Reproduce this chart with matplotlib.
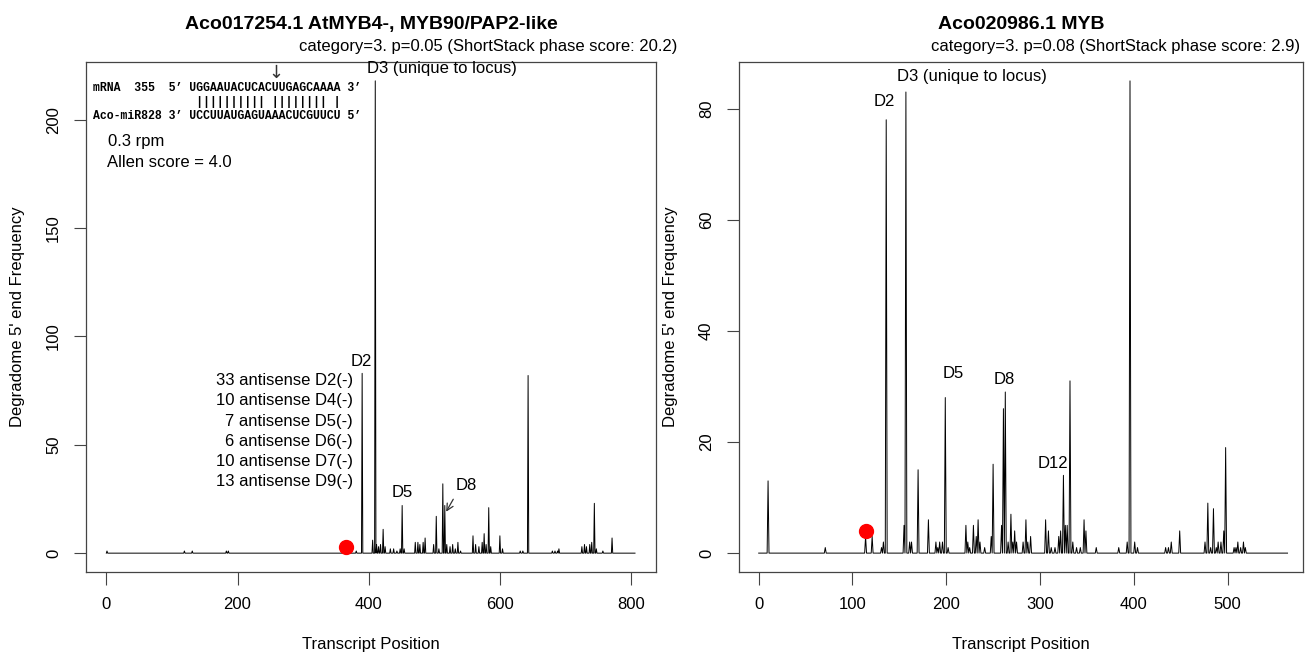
import numpy as np
import matplotlib
matplotlib.use("Agg")
import matplotlib.pyplot as plt

plt.rcParams['font.family'] = ['Liberation Sans', 'DejaVu Sans']
plt.rcParams['font.size'] = 12

# ---- data: left transcript (Aco017254.1) ----
left_len = 806
left_pos = [1, 119, 131, 183, 186, 381, 390, 406, 410, 412, 415, 418, 422, 425,
            433, 438, 443, 448, 451, 454, 471, 475, 478, 483, 486, 499, 503, 507,
            513, 516, 519, 524, 528, 532, 536, 540, 559, 563, 568, 573, 576, 579,
            583, 586, 600, 604, 631, 635, 643, 680, 684, 688, 690, 725, 729, 732,
            737, 740, 744, 747, 757, 771]
left_val = [1, 1, 1, 1, 1, 1, 83, 6, 218, 4, 3, 4, 11, 3,
            2, 2, 1, 2, 22, 2, 5, 5, 4, 5, 7, 4, 17, 2,
            32, 22, 4, 3, 4, 2, 5, 1, 8, 4, 3, 5, 9, 4,
            21, 3, 8, 2, 1, 1, 82, 1, 1, 1, 2, 3, 4, 3,
            4, 5, 23, 2, 1, 7]

# ---- data: right transcript (Aco020986.1) ----
right_len = 564
right_pos = [10, 71, 114, 121, 131, 133, 136, 155, 157, 161, 163, 170, 181, 189,
             191, 193, 196, 199, 202, 221, 223, 225, 229, 232, 234, 236, 241, 248,
             250, 259, 261, 263, 266, 269, 271, 273, 275, 282, 285, 287, 290, 306,
             309, 312, 316, 320, 322, 325, 327, 329, 332, 335, 339, 343, 347, 349,
             360, 384, 393, 396, 401, 404, 434, 437, 440, 449, 476, 479, 482, 485,
             488, 490, 493, 496, 498, 507, 509, 511, 514, 517, 519]
right_val = [13, 1, 3, 3, 1, 2, 78, 5, 83, 2, 2, 15, 6, 2,
             1, 2, 2, 28, 1, 5, 2, 1, 5, 3, 6, 2, 1, 3,
             16, 5, 26, 29, 2, 7, 2, 4, 2, 2, 6, 2, 3, 6,
             4, 1, 1, 3, 4, 14, 5, 5, 31, 2, 1, 1, 6, 4,
             1, 1, 2, 85, 2, 1, 1, 1, 2, 4, 2, 9, 1, 8,
             1, 2, 2, 4, 19, 1, 1, 2, 1, 2, 1]

# cleavage sites (red dots)
left_site = (365, 3)
right_site = (114, 4)

left_title = "Aco017254.1 AtMYB4-, MYB90/PAP2-like"
right_title = "Aco020986.1 MYB"
left_sub = "category=3. p=0.05 (ShortStack phase score: 20.2)"
right_sub = "category=3. p=0.08 (ShortStack phase score: 2.9)"

antisense = ["33 antisense D2(-)", "10 antisense D4(-)", "7 antisense D5(-)",
             "6 antisense D6(-)", "10 antisense D7(-)", "13 antisense D9(-)"]

mrna_line = "mRNA  355  5\u2019 UGGAAUACUCACUUGAGCAAAA 3\u2019"
pair_line = "               |||||||||| |||||||| |"
mir_line = "Aco-miR828 3\u2019 UCCUUAUGAGUAAACUCGUUCU 5\u2019"


def profile(n, pos, val):
    x = np.arange(0, n + 1)
    y = np.zeros(n + 1)
    y[pos] = val
    return x, y


W, H = 1311, 652
fig = plt.figure(figsize=(W / 100, H / 100), dpi=100)


def make_ax(x0, x1, y0, y1):
    return fig.add_axes([x0 / W, 1 - y1 / H, (x1 - x0) / W, (y1 - y0) / H])


def style(ax, xlim, ylim, xticks, yticks):
    ax.set_xlim(*xlim)
    ax.set_ylim(*ylim)
    ax.set_xticks(xticks)
    ax.set_yticks(yticks)
    for s in ax.spines.values():
        s.set_color('#444444')
        s.set_linewidth(0.9)
    ax.tick_params(length=9, width=0.8, color='#444444', pad=9)
    for lab in ax.get_yticklabels():
        lab.set_rotation(90)
        lab.set_va('center')
    ax.set_xlabel("Transcript Position", labelpad=18)
    ax.set_ylabel("Degradome 5' end Frequency", labelpad=15)


# ---- left panel ----
ax1 = make_ax(86, 656, 62, 572)
x, y = profile(left_len, left_pos, left_val)
ax1.plot(x, y, color='black', lw=0.7)
ax1.plot(*left_site, 'o', color='red', ms=10, zorder=5)
style(ax1, (-31, 838), (-8.7, 226.7), [0, 200, 400, 600, 800], [0, 50, 100, 150, 200])
ax1.set_title(left_title, fontweight='bold', fontsize=14, pad=24)

ax1.text(398, 223.8, "D3 (unique to locus)", ha='left', va='center')
ax1.text(389, 88.5, "D2", ha='center', va='center')
ax1.text(451, 28, "D5", ha='center', va='center')
ax1.text(548, 31, "D8", ha='center', va='center')
ax1.annotate("", xy=(516, 18), xytext=(531, 26),
             arrowprops=dict(arrowstyle='->', color='#333333', lw=0.9))
for i, t in enumerate(antisense):
    ax1.text(376, 79.5 - i * 9.26, t, ha='right', va='center')

mono = dict(family='Liberation Mono', fontsize=8.3, fontweight='bold', ha='left', va='center')
ax1.text(-20, 214.5, mrna_line, **mono)
ax1.text(-20, 208.3, pair_line, **mono)
ax1.text(-20, 201.8, mir_line, **mono)
ax1.text(259, 221.5, "\u2193", family='DejaVu Sans', fontsize=13, color='#333333',
         ha='center', va='center')
ax1.text(2, 189.8, "0.3 rpm", ha='left', va='center')
ax1.text(1, 180.3, "Allen score = 4.0", ha='left', va='center')

# ---- right panel ----
ax2 = make_ax(739, 1303, 62, 572)
x, y = profile(right_len, right_pos, right_val)
ax2.plot(x, y, color='black', lw=0.7)
ax2.plot(*right_site, 'o', color='red', ms=10, zorder=5)
style(ax2, (-21, 580.5), (-3.4, 88.4), [0, 100, 200, 300, 400, 500], [0, 20, 40, 60, 80])
ax2.set_title(right_title, fontweight='bold', fontsize=14, pad=24)

ax2.text(147, 85.8, "D3 (unique to locus)", ha='left', va='center')
ax2.text(133.5, 81.3, "D2", ha='center', va='center')
ax2.text(207, 32.3, "D5", ha='center', va='center')
ax2.text(261.5, 31.2, "D8", ha='center', va='center')
ax2.text(313.5, 16.2, "D12", ha='center', va='center')

# subtitles above each box
fig.text(677 / W, 1 - 47 / H, left_sub, ha='right', va='center')
fig.text(1300 / W, 1 - 47 / H, right_sub, ha='right', va='center')

fig.savefig("out.png", dpi=100)
